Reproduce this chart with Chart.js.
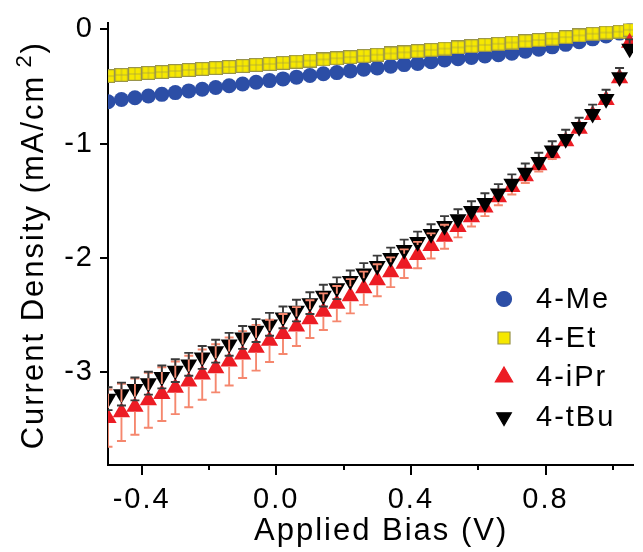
<!DOCTYPE html>
<html><head><meta charset="utf-8">
<script src="https://cdn.jsdelivr.net/npm/chart.js@4"></script>
<style>html,body{margin:0;padding:0;background:#fff;overflow:hidden}</style>
</head><body><canvas id="c" width="643" height="552"></canvas>
<script>
// Applied bias (V)
const voltage = [-0.50,-0.46,-0.42,-0.38,-0.34,-0.30,-0.26,-0.22,-0.18,-0.14,-0.10,-0.06,-0.02,0.02,0.06,0.10,0.14,0.18,0.22,0.26,0.30,0.34,0.38,0.42,0.46,0.50,0.54,0.58,0.62,0.66,0.70,0.74,0.78,0.82,0.86,0.90,0.94,0.98,1.02,1.05];
// Current density (mA/cm^2)
const me  = [-0.635,-0.615,-0.600,-0.585,-0.570,-0.555,-0.540,-0.525,-0.510,-0.495,-0.480,-0.465,-0.450,-0.435,-0.420,-0.405,-0.390,-0.380,-0.365,-0.350,-0.340,-0.325,-0.310,-0.300,-0.285,-0.270,-0.258,-0.247,-0.235,-0.223,-0.210,-0.193,-0.175,-0.155,-0.133,-0.110,-0.085,-0.060,-0.035,-0.010];
const et  = [-0.410,-0.400,-0.392,-0.383,-0.375,-0.366,-0.357,-0.348,-0.340,-0.331,-0.322,-0.313,-0.304,-0.295,-0.285,-0.275,-0.265,-0.255,-0.245,-0.234,-0.224,-0.213,-0.203,-0.192,-0.181,-0.170,-0.160,-0.149,-0.138,-0.128,-0.117,-0.106,-0.095,-0.084,-0.070,-0.055,-0.040,-0.030,-0.022,-0.006];
const ipr = [-3.400,-3.350,-3.300,-3.245,-3.190,-3.135,-3.080,-3.020,-2.965,-2.905,-2.845,-2.785,-2.725,-2.665,-2.600,-2.535,-2.470,-2.400,-2.335,-2.265,-2.195,-2.125,-2.050,-1.975,-1.895,-1.815,-1.730,-1.645,-1.560,-1.470,-1.380,-1.285,-1.190,-1.085,-0.980,-0.870,-0.750,-0.620,-0.430,-0.120];
const tbu = [-3.230,-3.190,-3.145,-3.095,-3.040,-2.985,-2.930,-2.870,-2.815,-2.755,-2.695,-2.635,-2.580,-2.520,-2.460,-2.395,-2.330,-2.265,-2.200,-2.135,-2.070,-2.000,-1.930,-1.860,-1.790,-1.720,-1.660,-1.590,-1.520,-1.435,-1.350,-1.255,-1.160,-1.060,-0.960,-0.855,-0.740,-0.610,-0.420,-0.170];
const iprErr = [0.25,0.25,0.245,0.24,0.235,0.23,0.225,0.22,0.21,0.21,0.205,0.20,0.185,0.175,0.17,0.165,0.16,0.155,0.15,0.145,0.14,0.13,0.125,0.115,0.11,0.105,0.09,0.08,0.075,0.07,0.065,0.06,0.055,0.05,0.045,0.04,0.04,0.035,0.03,0.03];
const tbuErr = [0.10,0.10,0.10,0.10,0.10,0.10,0.10,0.10,0.10,0.10,0.10,0.10,0.10,0.095,0.095,0.095,0.095,0.095,0.09,0.09,0.09,0.09,0.09,0.09,0.085,0.085,0.085,0.085,0.085,0.08,0.08,0.08,0.08,0.08,0.08,0.08,0.08,0.08,0.08,0.08];
const seriesLabels = ['4-Me','4-Et','4-iPr','4-tBu'];
const xTicks = [-0.4, 0.0, 0.4, 0.8];
const xMinorTicks = [-0.2, 0.2, 0.6, 1.0];
const yTicks = [0, -1, -2, -3];
const yTitleMain = 'Current Density (mA/cm';
const yTitleSup = '2';
const yTitleEnd = ')';

const FONT = "'Liberation Sans', Arial, Helvetica, sans-serif";
const LS = '2px';
const BLUE = '#2c4ea6', YEL = '#f6e800', OLIVE = '#99944a', RED = '#ec1c24', SALMON = '#f5876e';

// yellow "window" square marker
const sq = document.createElement('canvas');
sq.width = 14; sq.height = 14;
(function(){
  const g = sq.getContext('2d');
  g.fillStyle = OLIVE; g.fillRect(0,0,14,14);
  g.fillStyle = YEL;
  [[1.2,1.2],[7.3,1.2],[1.2,7.3],[7.3,7.3]].forEach(p => g.fillRect(p[0],p[1],5.5,5.5));
})();

const pts = arr => arr.map((v,i) => ({x: voltage[i], y: v}));

const spacing = {
  id: 'spacing',
  beforeUpdate(c){ c.ctx.letterSpacing = LS; },
  beforeLayout(c){ c.ctx.letterSpacing = LS; },
  beforeDraw(c){ c.ctx.letterSpacing = LS; }
};

const errorBars = {
  id: 'errorBars',
  afterDatasetsDraw(c){
    const ctx = c.ctx, xs = c.scales.x, ys = c.scales.y, ca = c.chartArea;
    ctx.save();
    ctx.beginPath(); ctx.rect(ca.left, ca.top, ca.right-ca.left, ca.bottom-ca.top); ctx.clip();
    const draw = (vals, errs, color, upEdge, downEdge) => {
      ctx.strokeStyle = color; ctx.lineWidth = 1.9;
      vals.forEach((v,i) => {
        const px = xs.getPixelForValue(voltage[i]);
        const py = ys.getPixelForValue(v);
        const top = ys.getPixelForValue(v + errs[i]);
        const bot = ys.getPixelForValue(v - errs[i]);
        ctx.beginPath();
        if (py - upEdge > top + 0.5) {
          ctx.moveTo(px, py - upEdge); ctx.lineTo(px, top);
          ctx.moveTo(px-4.5, top); ctx.lineTo(px+4.5, top);
        }
        if (py + downEdge < bot - 0.5) {
          ctx.moveTo(px, py + downEdge); ctx.lineTo(px, bot);
          ctx.moveTo(px-4.5, bot); ctx.lineTo(px+4.5, bot);
        }
        ctx.stroke();
      });
    };
    draw(ipr, iprErr, SALMON, 10, 5);
    draw(tbu, tbuErr, '#3a3a3a', 4.9, 9.8);
    ctx.restore();
  }
};

const extras = {
  id: 'extras',
  afterDraw(c){
    const ctx = c.ctx, xs = c.scales.x, ca = c.chartArea;
    // minor x ticks
    ctx.save(); ctx.strokeStyle = '#000'; ctx.lineWidth = 2;
    xMinorTicks.forEach(v => {
      const px = Math.round(xs.getPixelForValue(v));
      ctx.beginPath(); ctx.moveTo(px, ca.bottom); ctx.lineTo(px, ca.bottom + 5); ctx.stroke();
    });
    ctx.restore();

    // y axis title with superscript
    ctx.save();
    ctx.letterSpacing = LS;
    ctx.fillStyle = '#000';
    ctx.textBaseline = 'middle'; ctx.textAlign = 'left';
    const big = "31px " + FONT, small = "22px " + FONT;
    ctx.font = big; const w1 = ctx.measureText(yTitleMain).width, w3 = ctx.measureText(yTitleEnd).width;
    ctx.font = small; const w2 = ctx.measureText(yTitleSup).width;
    const gap = 7;
    const total = w1 + gap + w2 + w3;
    const cy = (ca.top + ca.bottom) / 2 + 1;
    ctx.translate(34, cy); ctx.rotate(-Math.PI/2);
    let x0 = -total/2;
    ctx.font = big; ctx.fillText(yTitleMain, x0, 0);
    ctx.font = small; ctx.fillText(yTitleSup, x0 + w1 + gap, -9);
    ctx.font = big; ctx.fillText(yTitleEnd, x0 + w1 + gap + w2, 0);
    ctx.restore();

    // legend
    const rows = [299, 338, 377, 417];
    const mx = 504, tx = 536;
    ctx.save();
    ctx.letterSpacing = LS;
    ctx.font = "29px " + FONT;
    ctx.textBaseline = 'middle'; ctx.textAlign = 'left';
    c.data.datasets.forEach((ds, i) => {
      const y = rows[i];
      ctx.fillStyle = ds.legendFill; ctx.strokeStyle = ds.legendStroke; ctx.lineWidth = 1.2;
      Chart.helpers.drawPoint(ctx, {pointStyle: ds.legendStyle, radius: ds.legendRadius, rotation: ds.pointRotation || 0, borderWidth: 1.2}, mx, y);
      ctx.fillStyle = '#000';
      ctx.fillText(ds.label, tx, y + 1);
    });
    ctx.restore();
  }
};

new Chart(document.getElementById('c'), {
  type: 'scatter',
  data: {
    datasets: [
      { label: seriesLabels[0], data: pts(me), pointStyle: 'circle', pointRadius: 7.5, backgroundColor: BLUE, borderColor: BLUE, borderWidth: 0, order: 3, clip: 0,
        legendStyle: 'circle', legendRadius: 7.5, legendFill: BLUE, legendStroke: BLUE },
      { label: seriesLabels[1], data: pts(et), pointStyle: sq, pointRadius: 7, backgroundColor: YEL, borderColor: OLIVE, borderWidth: 0, order: 2, clip: 0,
        legendStyle: 'rect', legendRadius: 8.5, legendFill: YEL, legendStroke: OLIVE },
      { label: seriesLabels[2], data: pts(ipr), pointStyle: 'triangle', pointRadius: 10, backgroundColor: RED, borderColor: RED, borderWidth: 0, order: 1, clip: 0,
        legendStyle: 'triangle', legendRadius: 10, legendFill: RED, legendStroke: RED },
      { label: seriesLabels[3], data: pts(tbu), pointStyle: 'triangle', pointRotation: 180, pointRadius: 9.8, backgroundColor: '#000', borderColor: '#000', borderWidth: 0, order: 0, clip: 0,
        legendStyle: 'triangle', legendRadius: 8.5, legendFill: '#000', legendStroke: '#000' }
    ]
  },
  options: {
    responsive: false,
    animation: false,
    events: [],
    devicePixelRatio: 1,
    layout: { padding: { top: 21, right: 0, left: 0, bottom: 0 } },
    plugins: { legend: { display: false }, tooltip: { enabled: false } },
    scales: {
      x: {
        type: 'linear', min: -0.5, max: 1.06,
        afterBuildTicks: s => { s.ticks = xTicks.map(v => ({value: v})); },
        afterFit: s => { s.height = 87; },
        grid: { drawOnChartArea: false, drawTicks: true, tickLength: 10, tickColor: '#000', lineWidth: 2 },
        border: { display: true, color: '#000', width: 2 },
        ticks: { color: '#000', font: { family: FONT, size: 29 }, padding: 8, maxRotation: 0,
                 callback: v => v.toFixed(1) },
        title: { display: true, text: '  Applied Bias (V)', color: '#000', font: { family: FONT, size: 31 }, padding: { top: 0, bottom: 2 } }
      },
      y: {
        type: 'linear', min: -3.81, max: 0.05,
        afterBuildTicks: s => { s.ticks = yTicks.map(v => ({value: v})); },
        afterFit: s => { s.width = 108; },
        grid: { drawOnChartArea: false, drawTicks: true, tickLength: 8, tickColor: '#000', lineWidth: 2 },
        border: { display: true, color: '#000', width: 2 },
        ticks: { color: '#000', font: { family: FONT, size: 29 }, padding: 6,
                 callback: v => String(v) },
        title: { display: false }
      }
    }
  },
  plugins: [spacing, errorBars, extras]
});
</script>
</body></html>
